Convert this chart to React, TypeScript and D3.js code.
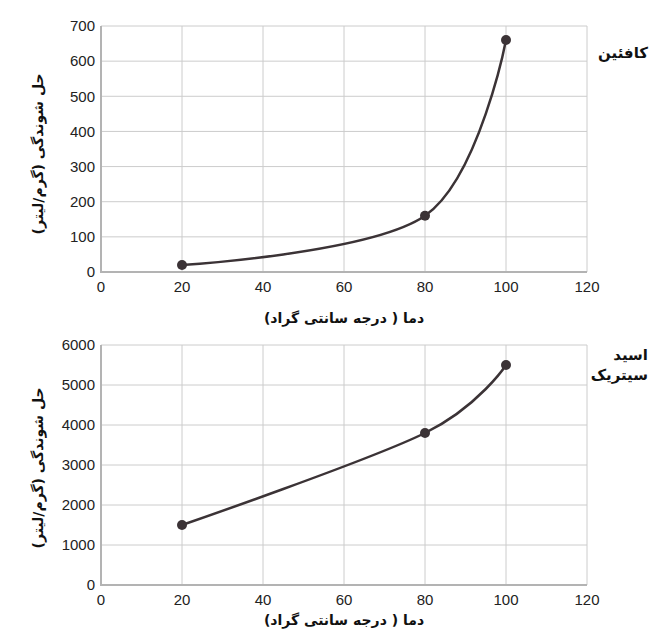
import React from 'react';
import * as d3 from 'd3';

// temperatures (°C) and solubility (g/L)
const temps = [20, 80, 100];
const caffeine = [20, 160, 660];
const citric = [1500, 3800, 5500];

const xTicks = [0, 20, 40, 60, 80, 100, 120];
const caffeineTicks = [0, 100, 200, 300, 400, 500, 600, 700];
const citricTicks = [0, 1000, 2000, 3000, 4000, 5000, 6000];

const yTitle = 'حل شوندگی (گرم/لیتر)';
const xTitle = 'دما ( درجه سانتی گراد)';

const W = 655;
const H = 640;
const persianFont = '"DejaVu Sans", sans-serif';
const numFont = '"Liberation Sans", Arial, sans-serif';

interface PanelProps {
  values: number[];
  yTicks: number[];
  yMax: number;
  top: number;
  bottom: number;
  label: string[];
  labelY: number;
  xTitleY: number;
  yTitleY: number;
}

const Panel: React.FC<PanelProps> = ({ values, yTicks, yMax, top, bottom, label, labelY, xTitleY, yTitleY }) => {
  const left = 101;
  const right = 587;
  const x = d3.scaleLinear().domain([0, 120]).range([left, right]);
  const y = d3.scaleLinear().domain([0, yMax]).range([bottom, top]);

  const pts = temps.map((t, i) => [t, values[i]] as [number, number]);
  const line = d3.line<[number, number]>()
    .x(d => x(d[0]))
    .y(d => y(d[1]))
    .curve(d3.curveCardinal.tension(0));

  return (
    <g>
      {/* grid */}
      {xTicks.map(t => (
        <line key={'gx' + t} x1={x(t)} x2={x(t)} y1={top} y2={bottom} stroke="#cccccc" strokeWidth={1} />
      ))}
      {yTicks.map(t => (
        <line key={'gy' + t} x1={left} x2={right} y1={y(t)} y2={y(t)} stroke="#cccccc" strokeWidth={1} />
      ))}
      {/* axes */}
      <line x1={left} x2={left} y1={top} y2={bottom + 1} stroke="#b3b3b3" strokeWidth={2} />
      <line x1={left} x2={right} y1={bottom} y2={bottom} stroke="#b3b3b3" strokeWidth={2} />

      {/* tick labels */}
      {yTicks.map(t => (
        <text key={'ly' + t} x={left - 6} y={y(t)} dy="0.35em" textAnchor="end"
          fontFamily={numFont} fontSize={15} fill="#222">{t}</text>
      ))}
      {xTicks.map(t => (
        <text key={'lx' + t} x={x(t)} y={bottom + 15} dy="0.35em" textAnchor="middle"
          fontFamily={numFont} fontSize={15} fill="#222">{t}</text>
      ))}

      {/* series */}
      <path d={line(pts) ?? ''} fill="none" stroke="#3b3336" strokeWidth={2.5} />
      {pts.map(d => (
        <circle key={'p' + d[0]} cx={x(d[0])} cy={y(d[1])} r={5} fill="#3b3336" />
      ))}

      {/* titles */}
      <text x={344} y={xTitleY} dy="0.35em" textAnchor="middle" direction="rtl"
        fontFamily={persianFont} fontWeight="bold" fontSize={14} fill="#111">{xTitle}</text>
      <text transform={`translate(38,${yTitleY}) rotate(-90)`} dy="0.35em" textAnchor="middle" direction="rtl"
        fontFamily={persianFont} fontWeight="bold" fontSize={14} fill="#111">{yTitle}</text>
      {label.map((s, i) => (
        <text key={'lb' + i} x={648} y={labelY + i * 20} dy="0.35em" textAnchor="start" direction="rtl"
          fontFamily={persianFont} fontWeight="bold" fontSize={15} fill="#111">{s}</text>
      ))}
    </g>
  );
};

export default function App() {
  return (
    <div style={{ position: 'absolute', left: 0, top: 0, width: W, height: H, background: '#fff' }}>
      <svg width={W} height={H} viewBox={`0 0 ${W} ${H}`}>
        <rect width={W} height={H} fill="#fff" />
        <Panel values={caffeine} yTicks={caffeineTicks} yMax={700} top={26} bottom={272}
          label={['کافئین']} labelY={53} xTitleY={318} yTitleY={154} />
        <Panel values={citric} yTicks={citricTicks} yMax={6000} top={345} bottom={585}
          label={['اسید', 'سیتریک']} labelY={355} xTitleY={620} yTitleY={468} />
      </svg>
    </div>
  );
}
